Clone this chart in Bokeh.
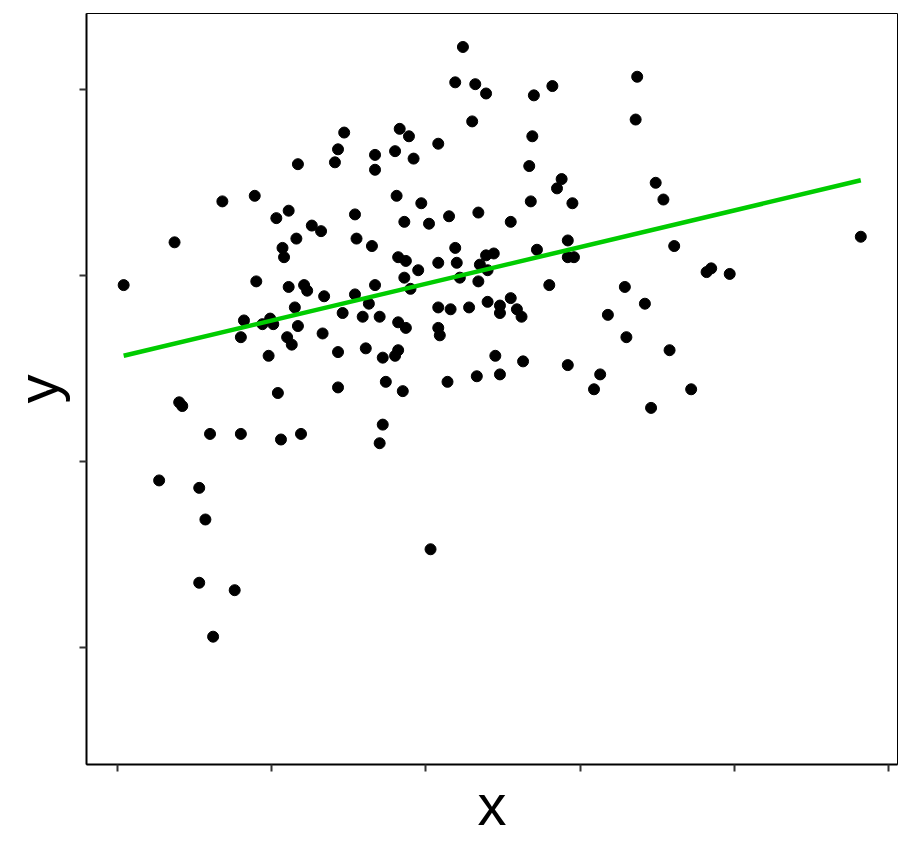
import numpy as np
from bokeh.plotting import figure
from bokeh.models import Range1d, FixedTicker
from bokeh.embed import file_html
from bokeh.resources import INLINE

# ---- data (tick values are unlabeled) ----
x_vals = [0.04, 0.27, 0.37, 0.40, 0.42, 0.53, 0.53, 0.57, 0.60, 0.62,
          0.68, 0.76, 0.80, 0.80, 0.82, 0.89, 0.90, 0.94, 0.98, 0.99,
          1.01, 1.03, 1.04, 1.06, 1.07, 1.08, 1.11, 1.11, 1.10, 1.13,
          1.15, 1.17, 1.16, 1.17, 1.19, 1.21, 1.23, 1.26, 1.32, 1.33,
          1.34, 1.41, 1.43, 1.43, 1.43, 1.46, 1.47, 1.54, 1.54, 1.55,
          1.59, 1.61, 1.63, 1.65, 1.67, 1.67, 1.67, 1.70, 1.70, 1.72,
          1.72, 1.74, 1.80, 1.80, 1.81, 1.82, 1.82, 1.82, 1.83, 1.85,
          1.86, 1.86, 1.87, 1.89, 1.87, 1.90, 1.92, 1.95, 1.97, 2.02,
          2.03, 2.08, 2.08, 2.08, 2.08, 2.09, 2.14, 2.15, 2.16, 2.19,
          2.19, 2.20, 2.22, 2.24, 2.28, 2.30, 2.32, 2.33, 2.34, 2.34,
          2.35, 2.39, 2.39, 2.40, 2.40, 2.44, 2.45, 2.48, 2.48, 2.48,
          2.55, 2.55, 2.59, 2.62, 2.63, 2.67, 2.69, 2.68, 2.70, 2.72,
          2.80, 2.82, 2.85, 2.88, 2.92, 2.92, 2.92, 2.96, 2.95, 3.13,
          3.09, 3.18, 3.29, 3.30, 3.36, 3.37, 3.42, 3.46, 3.49, 3.54,
          3.58, 3.61, 3.72, 3.82, 3.85, 3.97, 4.82]
y_vals = [1.95, 0.90, 2.18, 1.32, 1.30, 0.86, 0.35, 0.69, 1.15, 0.06,
          2.40, 0.31, 1.15, 1.67, 1.76, 2.43, 1.97, 1.74, 1.57, 1.77,
          1.74, 2.31, 1.37, 1.12, 2.15, 2.10, 2.35, 1.94, 1.67, 1.63,
          1.83, 1.73, 2.20, 2.60, 1.15, 1.95, 1.92, 2.27, 2.24, 1.69,
          1.89, 2.61, 2.68, 1.40, 1.59, 1.80, 2.77, 1.90, 2.33, 2.20,
          1.78, 1.61, 1.85, 2.16, 2.57, 2.65, 1.95, 1.78, 1.10, 1.56,
          1.20, 1.43, 2.67, 1.57, 2.43, 2.10, 1.75, 1.60, 2.79, 1.38,
          1.99, 2.29, 2.08, 2.75, 1.72, 1.93, 2.63, 2.03, 2.39, 2.28,
          0.53, 2.71, 1.83, 2.07, 1.72, 1.68, 1.43, 2.32, 1.82, 3.04,
          2.15, 2.07, 1.99, 3.23, 1.83, 2.83, 3.03, 1.46, 2.34, 1.97,
          2.06, 2.98, 2.11, 1.86, 2.03, 2.12, 1.57, 1.47, 1.80, 1.84,
          1.88, 2.29, 1.82, 1.78, 1.54, 2.59, 2.75, 2.40, 2.97, 2.14,
          1.95, 3.02, 2.47, 2.52, 1.52, 2.19, 2.10, 2.10, 2.39, 1.47,
          1.39, 1.79, 1.94, 1.67, 2.84, 3.07, 1.85, 1.29, 2.50, 2.41,
          1.60, 2.16, 1.39, 2.02, 2.04, 2.01, 2.21]
x_ticks = [0, 1, 2, 3, 4, 5]
y_ticks = [0, 1, 2, 3]
x_label = "x"
y_label = "y"

# least-squares fit line across the range of x
xa = np.array(x_vals)
ya = np.array(y_vals)
slope, intercept = np.polyfit(xa, ya, 1)
fit_x = [xa.min(), xa.max()]
fit_y = [intercept + slope * v for v in fit_x]

p = figure(
    frame_width=811, frame_height=751,
    x_range=Range1d(-0.201, 5.058), y_range=Range1d(-0.627, 3.410),
    output_backend="svg", toolbar_location=None,
    min_border_left=86, min_border_top=13, min_border_right=1, min_border_bottom=76,
    background_fill_color="white", border_fill_color="white",
)
p.grid.visible = False
p.outline_line_color = "black"
p.outline_line_width = 1

for ax in (p.xaxis[0], p.yaxis[0]):
    ax.axis_line_color = "black"
    ax.axis_line_width = 2
    ax.major_tick_in = 0
    ax.major_tick_out = 7
    ax.major_tick_line_color = "#333333"
    ax.major_tick_line_width = 2
    ax.minor_tick_line_color = None
    ax.major_label_text_font_size = "0px"
    ax.major_label_text_color = None
    ax.major_label_standoff = 0
    ax.axis_label_text_font = "Liberation Sans"
    ax.axis_label_text_font_style = "normal"
    ax.axis_label_text_font_size = "58px"
    ax.axis_label_text_color = "black"

p.xaxis.axis_label_standoff = 0
p.yaxis.axis_label_standoff = 10

p.xaxis.ticker = FixedTicker(ticks=x_ticks)
p.yaxis.ticker = FixedTicker(ticks=y_ticks)
p.xaxis.axis_label = x_label
p.yaxis.axis_label = y_label

p.scatter(x_vals, y_vals, size=11, color="black", line_color="black")
p.line(fit_x, fit_y, line_color="#00cc00", line_width=4.5)

open("out.html", "w").write(file_html(p, INLINE))
